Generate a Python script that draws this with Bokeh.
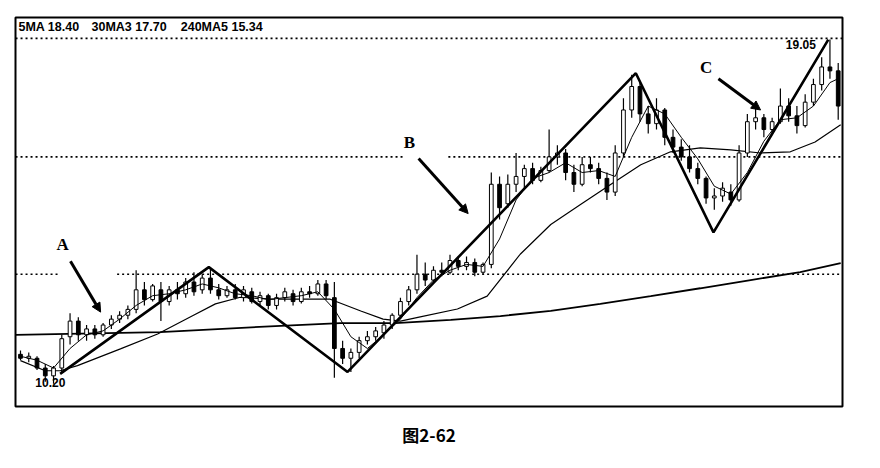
from bokeh.plotting import figure
from bokeh.models import ColumnDataSource, Label, Arrow, NormalHead, Range1d, Title
from bokeh.embed import file_html
from bokeh.resources import INLINE

# ---- data (price units, bar index) ----
opens  = [10.95,10.85,10.85,10.60,10.40,10.60,11.40,11.80,11.45,11.60,
          11.45,11.70,11.85,11.95,12.10,12.60,12.35,12.60,12.30,12.60,
          12.50,12.80,12.60,12.90,12.60,12.45,12.60,12.40,12.55,12.30,
          12.45,12.20,12.40,12.50,12.30,12.55,12.50,12.75,12.40,11.10,
          10.85,11.00,11.30,11.40,11.50,11.70,11.95,12.30,12.60,13.00,
          12.85,13.10,13.05,13.35,13.20,13.30,13.05,13.25,15.30,14.80,
          15.30,15.50,15.70,15.40,15.65,16.00,16.10,15.60,15.30,15.80,
          15.70,15.45,15.10,16.10,17.20,17.80,17.10,16.85,17.20,16.50,
          16.25,16.00,15.70,15.45,14.95,15.00,15.10,14.90,16.10,16.90,
          17.00,16.70,16.90,17.30,17.05,16.80,17.40,17.85,18.30,18.20]
highs  = [11.05,11.00,10.90,10.70,10.65,11.45,12.00,11.90,11.70,11.70,
          11.75,11.95,12.05,12.20,13.10,12.80,12.75,12.80,12.70,12.80,
          12.90,13.05,13.00,13.15,12.75,12.70,12.75,12.70,12.65,12.55,
          12.50,12.50,12.65,12.60,12.65,12.70,12.85,12.85,12.80,11.30,
          11.10,11.40,11.55,11.65,11.80,12.00,12.40,12.70,13.50,13.30,
          13.20,13.30,13.50,13.45,13.45,13.40,13.30,15.60,15.50,15.55,
          16.10,15.80,15.85,15.75,16.70,16.30,16.20,15.80,16.00,16.00,
          15.85,15.60,16.30,17.50,18.10,17.90,17.30,17.50,17.25,16.70,
          16.45,16.30,15.85,15.50,15.20,15.35,15.30,16.30,17.10,17.40,
          17.10,17.00,17.75,17.50,17.30,17.60,18.00,18.55,19.00,18.40]
lows   = [10.80,10.75,10.55,10.25,10.20,10.50,11.20,11.30,11.30,11.35,
          11.40,11.60,11.75,11.85,12.00,12.20,12.30,11.80,12.20,12.35,
          12.40,12.45,12.50,12.50,12.35,12.40,12.35,12.30,12.25,12.20,
          12.10,12.10,12.30,12.20,12.25,12.40,12.45,12.35,10.35,10.70,
          10.50,10.85,11.20,11.30,11.35,11.60,11.85,12.20,12.50,12.70,
          12.80,12.95,13.00,13.10,13.10,12.95,13.00,13.15,14.40,14.70,
          15.10,15.20,15.30,15.35,15.60,15.80,15.40,15.10,15.25,15.60,
          15.30,14.90,15.00,16.00,17.00,16.90,16.60,16.70,16.30,16.10,
          15.90,15.60,15.30,14.80,14.65,14.85,14.75,14.85,16.00,16.70,
          16.50,16.60,16.85,16.90,16.60,16.75,17.30,17.70,18.00,16.95]
closes = [10.85,10.90,10.60,10.40,10.60,11.35,11.80,11.45,11.60,11.45,
          11.70,11.85,11.95,12.10,12.60,12.35,12.70,12.30,12.60,12.50,
          12.80,12.55,12.90,12.60,12.45,12.60,12.40,12.60,12.30,12.45,
          12.20,12.40,12.55,12.30,12.55,12.50,12.75,12.45,11.10,10.85,
          11.00,11.30,11.40,11.55,11.70,11.95,12.30,12.60,13.00,12.85,
          13.10,13.05,13.35,13.20,13.30,13.05,13.25,15.30,14.70,15.30,
          15.50,15.70,15.40,15.65,16.00,16.10,15.60,15.30,15.80,15.70,
          15.45,15.10,16.10,17.20,17.80,17.10,16.85,17.20,16.50,16.25,
          16.00,15.70,15.45,14.95,15.00,15.20,14.90,16.10,16.90,17.00,
          16.70,16.90,17.30,17.05,16.80,17.40,17.85,18.30,18.20,17.30]

ma5_x = [0,2,4,6,8,10,12,14,16,18,20,22,24,26,28,30,32,34,36,38,40,42,44,46,48,50,
         52,54,56,58,60,62,64,66,68,70,72,74,76,78,80,82,84,86,88,90,92,94,96,98,99]
ma5_y = [10.9,10.8,10.6,11.1,11.45,11.55,11.85,12.2,12.45,12.5,12.6,12.75,12.65,12.5,
         12.45,12.35,12.4,12.45,12.55,12.1,11.4,11.1,11.45,11.85,12.4,12.85,13.1,13.25,
         13.2,13.9,14.9,15.45,15.6,15.85,15.6,15.65,15.5,16.5,17.3,17.1,16.5,15.95,15.25,
         15.05,15.6,16.4,16.95,17.0,17.3,17.9,18.0]

ma30_x = [0,3.0,4.8,6.9,12.1,16.6,20.6,23.6,26.6,30.3,33.9,37.5,41.2,43.9,46.0,48.4,
          52.9,56.5,60.5,64.2,67.8,71.4,75.1,78.7,82.3,86.0,89.6,93.2,96.2,99.3]
ma30_y = [10.79,10.53,10.53,10.66,11.09,11.47,11.91,12.24,12.41,12.36,12.36,12.36,12.06,
          11.85,11.80,11.91,12.11,12.44,13.51,14.27,14.78,15.29,15.80,16.13,16.23,16.18,
          16.10,16.13,16.38,16.82]

ma240_x = [-0.6,16.9,31.5,38.7,45.4,52.1,58.1,64.2,70.2,76.3,82.3,88.4,94.4,99.3]
ma240_y = [11.45,11.52,11.68,11.75,11.75,11.83,11.93,12.06,12.24,12.44,12.64,12.85,13.05,13.28]

zig_x = [4.8,22.8,39.6,74.5,83.9,97.8]
zig_y = [10.45,13.18,10.50,18.14,14.07,19.0]

grid_x0 = [-0.6, -0.6, 51.8, -0.6, 11.7]
grid_x1 = [99.6, 46.6, 99.6, 4.8, 99.6]
grid_y  = [19.03, 16.0, 16.0, 13.0, 13.0]

header_parts = ["5MA 18.40", "30MA3 17.70", "240MA5 15.34"]
header_x = [-0.25, 8.6, 19.4]
high_label, low_label = "19.05", "10.20"
caption = "图2-62"

# ---- figure ----
p = figure(width=864, height=460, output_backend="svg", toolbar_location=None,
           x_range=Range1d(-0.605, 99.52), y_range=Range1d(9.616, 19.565),
           min_border_left=15, min_border_right=22, min_border_top=17, min_border_bottom=52)
p.xaxis.visible = False
p.yaxis.visible = False
p.xgrid.visible = False
p.ygrid.visible = False
p.outline_line_color = "black"
p.outline_line_width = 2
p.background_fill_color = "white"
p.border_fill_color = "white"

p.segment(x0=grid_x0, x1=grid_x1, y0=grid_y, y1=grid_y, line_color="black",
          line_width=1.6, line_dash="2 3")

idx = list(range(len(closes)))
up = [c >= o for o, c in zip(opens, closes)]
def pick(vals, want):
    return [v for v, u in zip(vals, up) if u == want]
src_up = ColumnDataSource(dict(x=pick(idx, True), o=pick(opens, True), c=pick(closes, True),
                               h=pick(highs, True), l=pick(lows, True)))
src_dn = ColumnDataSource(dict(x=pick(idx, False), o=pick(opens, False), c=pick(closes, False),
                               h=pick(highs, False), l=pick(lows, False)))

p.line(ma240_x, ma240_y, line_color="black", line_width=1.8)
p.line(ma30_x, ma30_y, line_color="black", line_width=1.2)

for s, fill in ((src_up, "white"), (src_dn, "black")):
    p.segment(x0="x", x1="x", y0="l", y1="h", source=s, line_color="black", line_width=1.2)
    p.vbar(x="x", width=0.45, top="o", bottom="c", source=s, fill_color=fill,
           line_color="black", line_width=1)

p.line(ma5_x, ma5_y, line_color="black", line_width=1)
p.line(zig_x, zig_y, line_color="black", line_width=2.6)

# header & value labels
for hx, ht in zip(header_x, header_parts):
    p.add_layout(Label(x=hx, y=19.31, text=ht, text_font="Liberation Sans",
                       text_font_style="bold", text_font_size="12.5px", text_baseline="middle",
                       text_color="black"))
p.add_layout(Label(x=96.3, y=18.88, text=high_label, text_font="Liberation Sans",
                   text_font_style="bold", text_font_size="12px", text_baseline="middle",
                   text_align="right", background_fill_color="white", text_color="black"))
p.add_layout(Label(x=1.8, y=10.22, text=low_label, text_font="Liberation Sans",
                   text_font_style="bold", text_font_size="12px", text_baseline="middle",
                   text_color="black"))

# annotations A, B, C
for lx, ly, t, ax0, ay0, ax1, ay1 in ((5.1, 13.76, "A", 6.05, 13.33, 9.7, 12.03),
                                      (47.1, 16.36, "B", 48.2, 15.96, 54.2, 14.55),
                                      (83.0, 18.29, "C", 84.5, 18.0, 89.6, 17.2)):
    p.add_layout(Label(x=lx, y=ly, text=t, text_font="Liberation Serif",
                       text_font_style="bold", text_font_size="17px",
                       text_align="center", text_baseline="middle", text_color="black"))
    p.add_layout(Arrow(end=NormalHead(size=9, fill_color="black", line_color="black"),
                       x_start=ax0, y_start=ay0, x_end=ax1, y_end=ay1,
                       line_color="black", line_width=3))

p.add_layout(Title(text=caption, align="center", text_font="Noto Sans CJK SC",
                   text_font_style="bold", text_font_size="17px", text_color="black",
                   standoff=27), "below")

open("out.html", "w").write(file_html(p, INLINE))
